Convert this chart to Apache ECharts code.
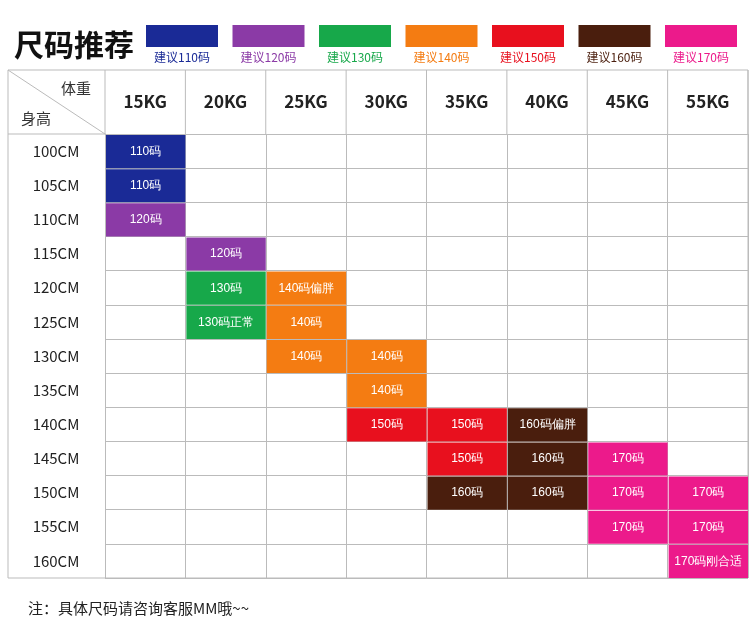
<!DOCTYPE html><html><head><meta charset="utf-8"><script src="https://cdn.jsdelivr.net/npm/echarts@6/dist/echarts.min.js"></script>
<style>html,body{margin:0;background:#fff}#c{width:750px;height:630px}</style></head><body><div id="c"></div><script>
const weights=["15KG","20KG","25KG","30KG","35KG","40KG","45KG","55KG"];
const heights=["100CM","105CM","110CM","115CM","120CM","125CM","130CM","135CM","140CM","145CM","150CM","155CM","160CM"];
const legendLabels=["建议110码","建议120码","建议130码","建议140码","建议150码","建议160码","建议170码"];
const colors=["#1a2a96","#8b3aa6","#17a84a","#f47c12","#e8101e","#4a1e0d","#ec1a8b"];
// [weightIdx, heightIdx, label, colorIdx]
const cells=[
[0,0,"110码",0],[0,1,"110码",0],[0,2,"120码",1],[1,3,"120码",1],
[1,4,"130码",2],[2,4,"140码偏胖",3],[1,5,"130码正常",2],[2,5,"140码",3],
[2,6,"140码",3],[3,6,"140码",3],[3,7,"140码",3],
[3,8,"150码",4],[4,8,"150码",4],[5,8,"160码偏胖",5],
[4,9,"150码",4],[5,9,"160码",5],[6,9,"170码",6],
[4,10,"160码",5],[5,10,"160码",5],[6,10,"170码",6],[7,10,"170码",6],
[6,11,"170码",6],[7,11,"170码",6],[7,12,"170码刚合适",6]];
const F='"Noto Sans CJK SC"';
const chart=echarts.init(document.getElementById('c'));
const gl=[];
legendLabels.forEach((t,i)=>{const x=146+i*86.5;
gl.push({type:'rect',shape:{x:x,y:25,width:72,height:22},style:{fill:colors[i]}});
gl.push({type:'text',x:x+36,y:57,style:{text:t,fill:colors[i],font:'12px '+F,align:'center',verticalAlign:'middle'}});});
gl.push({type:'text',x:14,y:45,style:{text:'尺码推荐',fill:'#111',font:'bold 30px '+F,verticalAlign:'middle'}});
gl.push({type:'text',x:28,y:608,style:{text:'注：具体尺码请咨询客服MM哦~~',fill:'#222',font:'15px '+F,verticalAlign:'middle'}});
gl.push({type:'rect',shape:{x:8,y:70,width:740,height:508},style:{fill:'none',stroke:'#bbb',lineWidth:1}});
gl.push({type:'line',shape:{x1:8,y1:70,x2:105,y2:134},style:{stroke:'#bbb'}});
gl.push({type:'line',shape:{x1:8,y1:134,x2:105,y2:134},style:{stroke:'#bbb'}});
gl.push({type:'text',x:76,y:88,style:{text:'体重',fill:'#333',font:'15px '+F,align:'center',verticalAlign:'middle'}});
gl.push({type:'text',x:36,y:118,style:{text:'身高',fill:'#333',font:'15px '+F,align:'center',verticalAlign:'middle'}});
for(let i=0;i<=8;i++){const x=105+i*(643/8);gl.push({type:'line',shape:{x1:x,y1:70,x2:x,y2:134},style:{stroke:'#bbb'}});}
chart.setOption({animation:false,backgroundColor:'#fff',
grid:{left:105,right:2,top:134,bottom:52},
xAxis:{type:'category',data:weights,position:'top',axisLine:{show:false},axisTick:{show:false},
 axisLabel:{margin:32,verticalAlign:'middle',color:'#222',fontSize:17,fontWeight:'bold',fontFamily:F},
 splitLine:{show:true,lineStyle:{color:'#bbb'}}},
yAxis:{type:'category',data:heights,inverse:true,axisLine:{lineStyle:{color:'#bbb'}},axisTick:{show:false},
 axisLabel:{margin:49,align:'center',color:'#222',fontSize:15,fontFamily:F},
 splitLine:{show:true,lineStyle:{color:'#bbb'}}},
graphic:gl,
series:[{type:'custom',data:cells,encode:{x:0,y:1},renderItem:function(p,api){
 const c=api.coord([api.value(0),api.value(1)]);const s=api.size([1,1]);
 const d=cells[p.dataIndex];
 return {type:'rect',shape:{x:c[0]-s[0]/2+1,y:c[1]-s[1]/2+1,width:s[0]-1,height:s[1]-1},
  style:{fill:colors[d[3]],text:d[2],textFill:'#fff',font:'13px '+F}};}}]
});
</script></body></html>
